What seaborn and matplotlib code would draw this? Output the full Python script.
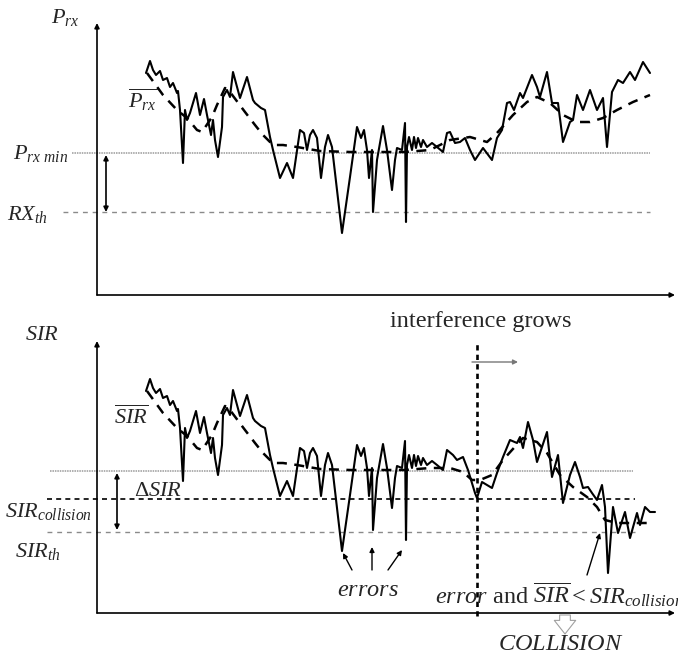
import matplotlib
matplotlib.use("Agg")
import matplotlib.pyplot as plt
import seaborn as sns
import numpy as np
import pandas as pd

# ---------------- data (time / level in arbitrary schematic units) ----------------
# common part of the received-power / SIR trace (identical in both panels)
common_t = [49, 53, 56, 59, 63, 66, 70, 73, 76, 80, 81, 83, 86, 88, 90, 93, 99, 103, 107, 110,
            114, 116, 118, 121, 125, 126, 130, 133, 136, 143, 150, 156, 158, 164, 168, 173, 176,
            183, 190, 196, 203, 207, 210, 213, 216, 220, 224, 228, 231, 235, 245, 253, 260, 264,
            267, 270, 272, 275, 276, 280, 286, 290, 295, 298, 300, 305, 308, 309, 310, 312, 315,
            317, 319, 321, 324, 326, 330, 335, 340, 346]
common_level = [222, 234, 225, 220, 224, 215, 217, 208, 212, 202, 204, 185, 132, 185, 175, 182, 202,
                180, 196, 180, 160, 175, 155, 138, 168, 198, 205, 198, 223, 197, 218, 195, 192, 187,
                185, 158, 145, 117, 132, 117, 165, 162, 145, 160, 165, 157, 117, 148, 160, 148, 62,
                118, 168, 157, 165, 145, 117, 145, 83, 135, 169, 145, 105, 135, 147, 145, 172, 73,
                148, 158, 145, 158, 147, 157, 148, 155, 148, 152, 148, 143]

# tail of the received power trace (top panel)
prx_tail_t = [350, 353, 358, 363, 368, 373, 378, 386, 395, 400, 405, 410, 413, 417, 423, 426, 435,
              440, 443, 450, 455, 461, 466, 473, 476, 480, 486, 493, 500, 506, 510, 515, 521, 526,
              533, 538, 546, 553]
prx_tail_level = [162, 163, 152, 153, 157, 145, 135, 147, 135, 157, 165, 192, 193, 185, 202, 197,
                  220, 208, 198, 223, 192, 192, 153, 173, 175, 200, 185, 205, 185, 197, 148, 203,
                  215, 212, 223, 215, 233, 222]

# tail of the SIR trace (bottom panel, interference grows)
sir_tail_t = [350, 356, 360, 366, 371, 378, 380, 385, 390, 395, 400, 406, 413, 420, 423, 426, 431,
              436, 440, 445, 450, 455, 461, 466, 473, 478, 483, 486, 491, 495, 500, 505, 508, 511,
              516, 521, 528, 533, 540, 543, 548, 553, 558]
sir_tail_level = [163, 158, 153, 156, 143, 120, 115, 131, 128, 125, 140, 156, 173, 170, 176, 165,
                  191, 173, 151, 166, 181, 136, 158, 110, 138, 151, 136, 125, 126, 120, 113, 128,
                  106, 40, 106, 80, 101, 75, 100, 88, 106, 101, 101]

# moving average (dashed) – common part
mean_common_t = [50, 66, 80, 90, 100, 105, 115, 120, 128, 133, 148, 158, 166, 176, 186, 200, 223,
                 253, 283, 308, 333]
mean_common_level = [222, 200, 185, 177, 165, 163, 178, 190, 207, 203, 183, 170, 160, 150, 150, 148,
                     144, 143, 143, 143, 145]
prx_mean_tail_t = [353, 373, 390, 400, 416, 430, 440, 453, 466, 480, 493, 506, 520, 536, 553]
prx_mean_tail_level = [155, 158, 153, 162, 180, 193, 198, 192, 180, 173, 173, 177, 185, 193, 200]
sir_mean_tail_t = [353, 366, 375, 383, 395, 406, 415, 426, 440, 450, 463, 476, 490, 500, 508, 520,
                   533, 553]
sir_mean_tail_level = [145, 141, 133, 133, 138, 153, 163, 175, 171, 160, 138, 126, 116, 106, 93, 90,
                       90, 90]

# reference levels
prx_min = 142
rx_th = 83
sir_ref = 142
sir_collision = 114
sir_th = 81
interference_start = 380

# ---------------- styling ----------------
sns.set_style("white")
plt.rcParams["font.family"] = ["Liberation Serif", "DejaVu Serif"]
plt.rcParams["mathtext.fontset"] = "custom"
plt.rcParams["mathtext.rm"] = "Liberation Serif"
plt.rcParams["mathtext.it"] = "Liberation Serif:italic"
plt.rcParams["mathtext.bf"] = "Liberation Serif:bold"

W, H = 678, 659
fig = plt.figure(figsize=(W / 100, H / 100), dpi=100)
ax_top = fig.add_axes([97 / W, (H - 295) / H, 576 / W, 270 / H])
ax_bot = fig.add_axes([97 / W, (H - 613) / H, 576 / W, 270 / H])

FS = 16     # axis-side labels
FS2 = 17.5  # annotations

prx_df = pd.DataFrame({"t": common_t + prx_tail_t, "level": common_level + prx_tail_level})
sir_df = pd.DataFrame({"t": common_t + sir_tail_t, "level": common_level + sir_tail_level})
prx_mean_df = pd.DataFrame({"t": mean_common_t + prx_mean_tail_t,
                            "level": mean_common_level + prx_mean_tail_level})
sir_mean_df = pd.DataFrame({"t": mean_common_t + sir_mean_tail_t,
                            "level": mean_common_level + sir_mean_tail_level})

for ax in (ax_top, ax_bot):
    ax.set_xlim(0, 576)
    ax.set_ylim(0, 270)
    ax.set_axis_off()
    # axes with arrows
    ax.annotate("", xy=(0, 272), xytext=(0, 0), annotation_clip=False,
                arrowprops=dict(arrowstyle="-|>", lw=1.2, color="black", mutation_scale=7,
                                shrinkA=0, shrinkB=0))
    ax.annotate("", xy=(578, 0), xytext=(0, 0), annotation_clip=False,
                arrowprops=dict(arrowstyle="-|>", lw=1.2, color="black", mutation_scale=7,
                                shrinkA=0, shrinkB=0))

# ---- top panel ----
ax_top.plot([-25, 553], [prx_min, prx_min], color="#9a9a9a", lw=1.1, ls=(0, (1, 0.6)), clip_on=False)
ax_top.plot([-34, 553], [rx_th, rx_th], color="#8a8a8a", lw=1.0, ls=(0, (3.5, 3.5)), clip_on=False)
sns.lineplot(data=prx_mean_df, x="t", y="level", ax=ax_top, sort=False, estimator=None,
             color="black", lw=1.8, linestyle=(0, (4, 3)))
sns.lineplot(data=prx_df, x="t", y="level", ax=ax_top, sort=False, estimator=None,
             color="black", lw=1.5)
ax_top.annotate("", xy=(9, rx_th), xytext=(9, prx_min - 2), annotation_clip=False,
                arrowprops=dict(arrowstyle="<|-|>", lw=1.2, color="black", mutation_scale=7,
                                shrinkA=0, shrinkB=0))
ax_top.text(-32, 277, r"$P_{rx}$", fontsize=FS, ha="center", va="center")
ax_top.text(46, 195, r"$\overline{P_{rx}}$", fontsize=FS, ha="center", va="center")
ax_top.text(-84, 142, r"$P_{rx\ min}$", fontsize=FS, ha="left", va="center")
ax_top.text(-90, 80, r"$RX_{th}$", fontsize=FS, ha="left", va="center")

# ---- bottom panel ----
ax_bot.plot([-47, 536], [sir_ref, sir_ref], color="#9a9a9a", lw=1.1, ls=(0, (1, 0.6)), clip_on=False)
ax_bot.plot([-50, 538], [sir_collision, sir_collision], color="black", lw=1.2,
            ls=(0, (3, 2.5)), clip_on=False)
ax_bot.plot([-50, 538], [sir_th, sir_th], color="#8a8a8a", lw=1.0, ls=(0, (3.5, 3.5)), clip_on=False)
ax_bot.plot([interference_start, interference_start], [-3, 270], color="black", lw=1.9,
            ls=(0, (2, 1.6)), clip_on=False)
sns.lineplot(data=sir_mean_df, x="t", y="level", ax=ax_bot, sort=False, estimator=None,
             color="black", lw=1.8, linestyle=(0, (4, 3)))
sns.lineplot(data=sir_df, x="t", y="level", ax=ax_bot, sort=False, estimator=None,
             color="black", lw=1.5)
ax_bot.annotate("", xy=(20, sir_th + 2), xytext=(20, sir_ref - 2), annotation_clip=False,
                arrowprops=dict(arrowstyle="<|-|>", lw=1.2, color="black", mutation_scale=7,
                                shrinkA=0, shrinkB=0))
ax_bot.annotate("", xy=(421, 251), xytext=(375, 251), annotation_clip=False,
                arrowprops=dict(arrowstyle="-|>", lw=1.0, color="#777777", mutation_scale=7,
                                shrinkA=0, shrinkB=0))

ax_bot.text(-55, 278, r"$SIR$", fontsize=FS, ha="center", va="center")
ax_bot.text(34, 196, r"$\overline{SIR}$", fontsize=FS, ha="center", va="center")
ax_bot.text(61, 121, r"$\Delta SIR$", fontsize=FS, ha="center", va="center")
ax_bot.text(-92, 101, r"$SIR_{collision}$", fontsize=FS, ha="left", va="center")
ax_bot.text(-82, 61, r"$SIR_{th}$", fontsize=FS, ha="left", va="center")
ax_bot.text(384, 291, "interference grows", fontsize=FS2, ha="center", va="center")
ax_bot.text(271, 23, r"$errors$", fontsize=FS2, ha="center", va="center")
ax_bot.text(338, 18, r"$error$ and $\overline{SIR} < SIR_{collision}$", fontsize=FS2,
            ha="left", va="center")
ax_bot.text(464, -32, r"$COLLISION$", fontsize=FS2, ha="center", va="center")

for (x0, y0), (x1, y1) in [((255, 43), (246, 60)), ((275, 43), (275, 66)),
                           ((291, 43), (305, 63)), ((490, 38), (503, 80))]:
    ax_bot.annotate("", xy=(x1, y1), xytext=(x0, y0), annotation_clip=False,
                    arrowprops=dict(arrowstyle="-|>", lw=1.0, color="black", mutation_scale=7,
                                    shrinkA=0, shrinkB=0))
ax_bot.annotate("", xy=(468, -21), xytext=(468, -2), annotation_clip=False,
                arrowprops=dict(arrowstyle="simple,head_width=1.1,head_length=0.7,tail_width=0.55",
                                fc="white", ec="#a0a0a0", lw=0.8, mutation_scale=14,
                                shrinkA=0, shrinkB=0))

fig.savefig("out.png", dpi=100)
